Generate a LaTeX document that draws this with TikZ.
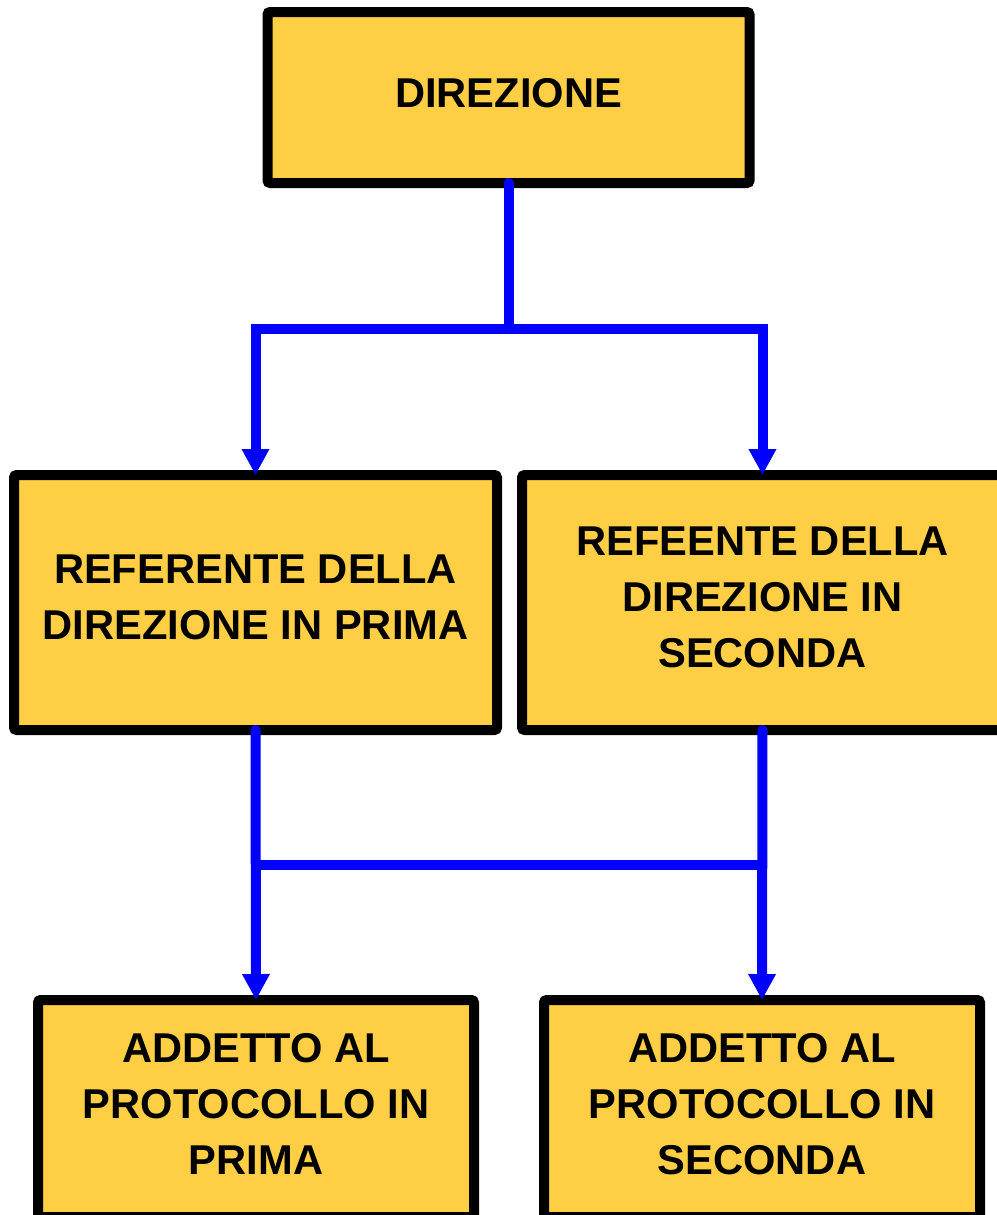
\documentclass[tikz,border=0pt]{standalone}
\usepackage{fontspec}
\setmainfont{Liberation Sans}
\usetikzlibrary{arrows.meta}
\definecolor{boxfill}{RGB}{254,207,68}
\definecolor{linkblue}{RGB}{0,0,255}
\begin{document}
\begin{tikzpicture}[x=0.75pt,y=-0.75pt,
  orgbox/.style={draw=black, fill=boxfill, line width=7.5pt, rounded corners=2pt,
    rectangle, inner sep=0pt, outer sep=0pt, align=center, text depth=7.5pt,
    font=\fontsize{31.25pt}{42pt}\selectfont\bfseries},
  link/.style={draw=linkblue, line width=7.5pt, line cap=round},
  arrowlink/.style={link, -{Triangle[length=19.5pt,width=19.5pt]}}]
  \useasboundingbox (0,0) rectangle (997,1215);
  \clip (0,0) rectangle (997,1215);

  % boxes
  \node[orgbox, minimum width=361.5pt, minimum height=128.25pt] (dir) at (508.5,97.5) {DIREZIONE};
  \node[orgbox, minimum width=362.25pt, minimum height=191.25pt] (ref1) at (255.5,602.5)
    {REFERENTE DELLA\\DIREZIONE IN PRIMA};
  \node[orgbox, minimum width=360.75pt, minimum height=191.25pt] (ref2) at (762.5,602.5)
    {REFEENTE DELLA\\DIREZIONE IN\\SECONDA};
  \node[orgbox, minimum width=327pt, minimum height=162.75pt] (add1) at (256,1108.5)
    {ADDETTO AL\\PROTOCOLLO IN\\PRIMA};
  \node[orgbox, minimum width=327pt, minimum height=162.75pt] (add2) at (762,1108.5)
    {ADDETTO AL\\PROTOCOLLO IN\\SECONDA};

  % junctions
  \coordinate (j1) at (dir.south |- 0,329);
  \coordinate (h1) at (ref1.south |- 0,865);
  \coordinate (h2) at (ref2.south |- 0,865);

  % connectors
  \draw[link] (dir.south) -- (j1);
  \draw[arrowlink] (j1) -| (ref1.north);
  \draw[arrowlink] (j1) -| (ref2.north);
  \draw[arrowlink] (ref1.south) -- (add1.north);
  \draw[arrowlink] (ref2.south) -- (add2.north);
  \draw[link, line cap=butt] (h1) -- (h2);
\end{tikzpicture}
\end{document}
